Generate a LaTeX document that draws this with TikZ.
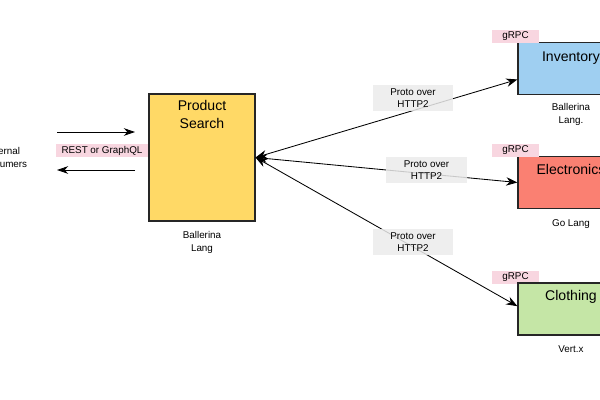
\documentclass[tikz,border=0pt]{standalone}
\usepackage{fontspec}
\setmainfont{Liberation Sans}
\usetikzlibrary{arrows.meta,positioning}

\definecolor{searchyellow}{HTML}{FFD966}
\definecolor{invblue}{HTML}{9FCFF1}
\definecolor{elecred}{HTML}{FA8072}
\definecolor{clothgreen}{HTML}{C5E6A6}
\definecolor{tagpink}{HTML}{F8D6E0}
\definecolor{protogrey}{HTML}{EBEBEB}

\tikzset{
  box/.style={draw=black!85, line width=0.8pt, minimum width=2.65cm, inner sep=0pt},
  svc/.style={box, minimum height=1.3cm},
  title/.style={font=\fontsize{10}{12.8}\selectfont, align=center, inner sep=0pt, anchor=north},
  caption/.style={font=\fontsize{7}{9.2}\selectfont, align=center, inner sep=0pt},
  tag/.style={fill=tagpink, minimum height=0.325cm, inner sep=0pt, font=\fontsize{7}{8}\selectfont},
  proto/.style={fill=protogrey, fill opacity=0.85, text opacity=1, minimum width=2cm, minimum height=0.65cm,
    inner sep=0pt, align=center, font=\fontsize{7}{8.8}\selectfont},
  link/.style={{Stealth[length=8pt,width=6pt]}-{Stealth[length=8pt,width=6pt]}, line width=0.6pt},
  flow/.style={-{Stealth[length=8pt,width=5.5pt]}, line width=0.6pt}
}

\begin{document}
\begin{tikzpicture}[x=0.025cm,y=-0.025cm]
  \clip (0,0) rectangle (600,400);

  \node[box, fill=searchyellow, minimum height=3.175cm] (search) at (202,157.5) {};
  \node[title, below=5pt of search.north] (searchtitle) {Product\\Search};
  \node[caption, below=7pt of search] (searchlang) {Ballerina\\Lang};

  \node[svc, fill=invblue] (inv) at (571,68.5) {};
  \node[title, below=6.5pt of inv.north] (invtitle) {Inventory};
  \node[caption, below=6pt of inv] (invlang) {Ballerina\\Lang.};
  \node[tag, minimum width=1.175cm] (invrpc) at (515.5,36.5) {gRPC};

  \node[svc, fill=elecred] (elec) at (571,182.5) {};
  \node[title, below=5.5pt of elec.north] (electitle) {Electronics};
  \node[caption, below=7pt of elec] (eleclang) {Go Lang};
  \node[tag, minimum width=1.175cm] (elecrpc) at (515.5,150.5) {gRPC};

  \node[tag, minimum width=1.175cm] (clothrpc) at (515.5,277.5) {gRPC};
  \node[svc, fill=clothgreen] (cloth) at (571,309) {};
  \node[title, below=5.5pt of cloth.north] (clothtitle) {Clothing};
  \node[caption, below=7pt of cloth] (clothlang) {Vert.x};

  \node[caption] (ext) at (2,157.5) {External\\Consumers};
  \coordinate (inL) at (57,132);
  \coordinate (inR) at (135,132);
  \coordinate (outR) at (135,170);
  \coordinate (outL) at (57,170);
  \draw[flow] (inL) -- (inR);
  \draw[flow] (outR) -- (outL);
  \node[tag, minimum width=2.275cm] (rest) at (102,150.5) {REST or GraphQL};

  \draw[link] (search.east) -- ([yshift=-7.8pt]inv.west);
  \draw[link] (search.east) -- (elec.west);
  \draw[link] (search.east) -- ([yshift=2pt]cloth.west);

  \node[proto] (invproto) at (413,98) {Proto over\\HTTP2};
  \node[proto] (elecproto) at (426.5,170) {Proto over\\HTTP2};
  \node[proto] (clothproto) at (413,242) {Proto over\\HTTP2};
\end{tikzpicture}
\end{document}
